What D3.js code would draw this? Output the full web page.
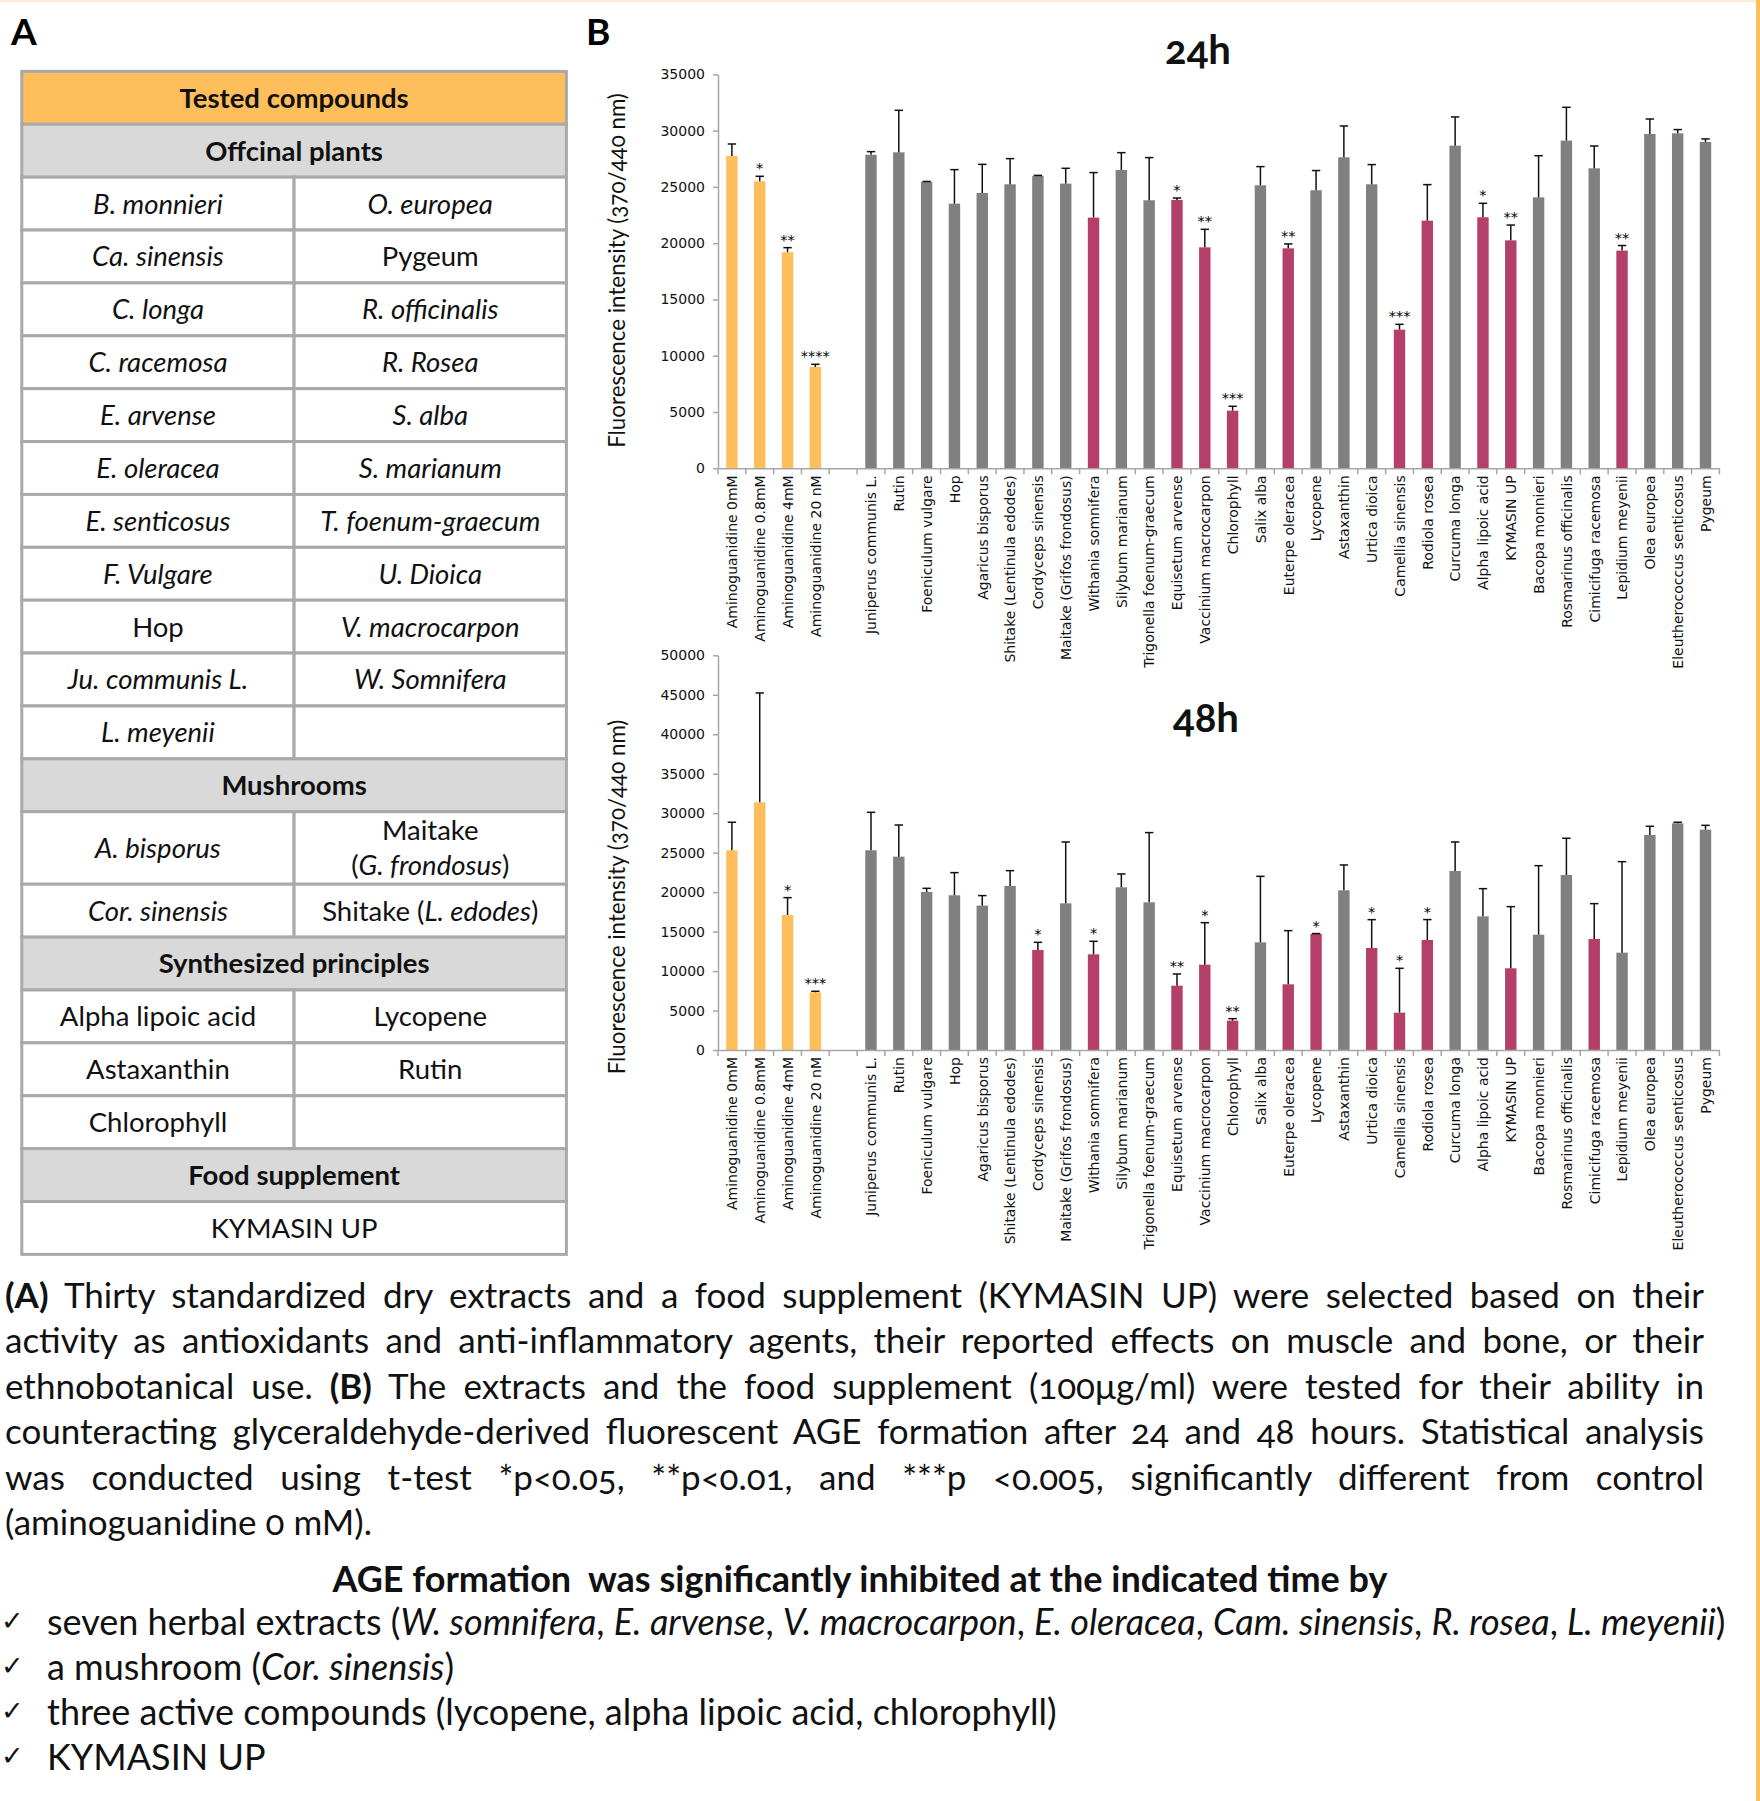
<!DOCTYPE html>
<html>
<head>
<meta charset="utf-8">
<script src="https://cdn.jsdelivr.net/npm/d3@7"></script>
<style>
  body { margin: 0; background: #fff; }
  svg { display: block; font-family: Lato, "Open Sans", sans-serif; }
  .onum { font-variant-numeric: oldstyle-nums; font-feature-settings: "onum" 1; }
</style>
</head>
<body>
<svg id="fig" width="1760" height="1801"></svg>
<script>
// ---------------- DATA ----------------
const categories = [
  "Aminoguanidine 0mM", "Aminoguanidine 0.8mM", "Aminoguanidine 4mM", "Aminoguanidine 20 nM", "",
  "Juniperus communis L.", "Rutin", "Foeniculum vulgare", "Hop", "Agaricus bisporus",
  "Shitake (Lentinula edodes)", "Cordyceps sinensis", "Maitake (Grifos frondosus)", "Withania somnifera",
  "Silybum marianum", "Trigonella foenum-graecum", "Equisetum arvense", "Vaccinium macrocarpon",
  "Chlorophyll", "Salix alba", "Euterpe oleracea", "Lycopene", "Astaxanthin", "Urtica dioica",
  "Camellia sinensis", "Rodiola rosea", "Curcuma longa", "Alpha lipoic acid", "KYMASIN UP",
  "Bacopa monnieri", "Rosmarinus officinalis", "Cimicifuga racemosa", "Lepidium meyenii",
  "Olea europea", "Eleutherococcus senticosus", "Pygeum"
];
const controls = ["Aminoguanidine 0mM", "Aminoguanidine 0.8mM", "Aminoguanidine 4mM", "Aminoguanidine 20 nM"];

const values24 = [27750, 25500, 19200, 9000, null,
  27850, 28070, 25430, 23510, 24460, 25230, 25970, 25290, 22270, 26500, 23810, 23840, 19630,
  5120, 25140, 19540, 24700, 27630, 25230, 12320, 22000, 28660, 22300, 20250, 24070, 29110,
  26650, 19340, 29700, 29760, 28990];
const errors24 = [1060, 440, 400, 240, null,
  280, 3730, 50, 3020, 2540, 2280, 50, 1360, 4000, 1540, 3790, 170, 1600,
  390, 1660, 390, 1750, 2780, 1750, 470, 3200, 2550, 1240, 1360, 3700, 2960,
  1980, 450, 1330, 330, 270];
const stars24 = ["", "*", "**", "****", "",
  "", "", "", "", "", "", "", "", "", "", "", "*", "**",
  "***", "", "**", "", "", "", "***", "", "", "*", "**", "", "",
  "", "**", "", "", ""];
const highlighted24 = ["Withania somnifera", "Equisetum arvense", "Vaccinium macrocarpon", "Chlorophyll",
  "Euterpe oleracea", "Camellia sinensis", "Rodiola rosea", "Alpha lipoic acid", "KYMASIN UP", "Lepidium meyenii"];

const values48 = [25300, 31380, 17100, 7310, null,
  25300, 24490, 20020, 19600, 18290, 20780, 12670, 18580, 12120, 20610, 18710, 8150, 10810,
  3720, 13640, 8320, 14700, 20230, 12920, 4730, 13940, 22680, 16930, 10350, 14610, 22170,
  14060, 12330, 27240, 28720, 27910];
const errors48 = [3550, 13850, 2200, 130, null,
  4810, 4010, 460, 2870, 1270, 1940, 970, 7770, 1650, 1690, 8830, 1480, 5320,
  250, 8360, 6800, 50, 3210, 3590, 5620, 2580, 3670, 3510, 7810, 8740, 4650,
  4480, 11530, 1100, 130, 550];
const stars48 = ["", "", "*", "***", "",
  "", "", "", "", "", "", "*", "", "*", "", "", "**", "*",
  "**", "", "", "*", "", "*", "*", "*", "", "", "", "", "",
  "", "", "", "", ""];
const highlighted48 = ["Cordyceps sinensis", "Withania somnifera", "Equisetum arvense", "Vaccinium macrocarpon",
  "Chlorophyll", "Euterpe oleracea", "Lycopene", "Urtica dioica", "Camellia sinensis", "Rodiola rosea",
  "KYMASIN UP", "Cimicifuga racemosa"];

const yTicks24 = [0, 5000, 10000, 15000, 20000, 25000, 30000, 35000];
const yTicks48 = [0, 5000, 10000, 15000, 20000, 25000, 30000, 35000, 40000, 45000, 50000];

// table contents
const tableTitle = "Tested compounds";
const plantsLeft = ["<i>B. monnieri</i>", "<i>Ca. sinensis</i>", "<i>C. longa</i>", "<i>C. racemosa</i>",
  "<i>E. arvense</i>", "<i>E. oleracea</i>", "<i>E. senticosus</i>", "<i>F. Vulgare</i>", "Hop",
  "<i>Ju. communis L.</i>", "<i>L. meyenii</i>"];
const plantsRight = ["<i>O. europea</i>", "Pygeum", "<i>R. officinalis</i>", "<i>R. Rosea</i>",
  "<i>S. alba</i>", "<i>S. marianum</i>", "<i>T. foenum-graecum</i>", "<i>U. Dioica</i>",
  "<i>V. macrocarpon</i>", "<i>W. Somnifera</i>", ""];
const mushroomsLeft = ["<i>A. bisporus</i>", "<i>Cor. sinensis</i>"];
const mushroomsRight = ["Maitake\n(<i>G. frondosus</i>)", "Shitake (<i>L. edodes</i>)"];
const principlesLeft = ["Alpha lipoic acid", "Astaxanthin", "Chlorophyll"];
const principlesRight = ["Lycopene", "Rutin", ""];
const supplements = ["KYMASIN UP"];
const tableSections = [
  { name: "Offcinal plants", left: plantsLeft, right: plantsRight },
  { name: "Mushrooms", left: mushroomsLeft, right: mushroomsRight },
  { name: "Synthesized principles", left: principlesLeft, right: principlesRight },
  { name: "Food supplement", span: supplements }
];

const captionLines = [
  "<b>(A)</b> Thirty standardized dry extracts and a food supplement (KYMASIN UP) were selected based on their",
  "activity as antioxidants and anti-inflammatory agents, their reported effects on muscle and bone, or their",
  "ethnobotanical use. <b>(B)</b> The extracts and the food supplement (100μg/ml) were tested for their ability in",
  "counteracting glyceraldehyde-derived fluorescent AGE formation after 24 and 48 hours. Statistical analysis",
  "was conducted using t-test *p<0.05, **p<0.01, and ***p <0.005, significantly different from control",
  "(aminoguanidine 0 mM)."
];
const headline = "AGE formation  was significantly inhibited at the indicated time by";
const bullets = [
  "seven herbal extracts (<i>W. somnifera</i>, <i>E. arvense</i>, <i>V. macrocarpon</i>, <i>E. oleracea</i>, <i>Cam. sinensis</i>, <i>R. rosea</i>, <i>L. meyenii</i>)",
  "a mushroom (<i>Cor. sinensis</i>)",
  "three active compounds (lycopene, alpha lipoic acid, chlorophyll)",
  "KYMASIN UP"
];

// ---------------- STYLE ----------------
const C = { orange: "#FFBE5C", grey: "#808080", red: "#B4406A", axis: "#A6A6A6",
            tableBorder: "#A9A9A9", section: "#D9D9D9" };

const svg = d3.select("#fig");
svg.append("rect").attr("width", 1760).attr("height", 1801).attr("fill", "#fff");
svg.append("rect").attr("x", 0).attr("y", 0).attr("width", 1756).attr("height", 2).attr("fill", "#FDEBD2");
svg.append("rect").attr("x", 1756).attr("y", 0).attr("width", 4).attr("height", 1801).attr("fill", C.orange);

function rich(textSel, str) {
  const parts = str.split(/(<i>.*?<\/i>|<b>.*?<\/b>)/).filter(s => s.length);
  parts.forEach(p => {
    const t = textSel.append("tspan");
    if (p.startsWith("<i>")) t.attr("font-style", "italic").text(p.slice(3, -4));
    else if (p.startsWith("<b>")) t.attr("font-weight", "bold").text(p.slice(3, -4));
    else t.text(p);
  });
  return textSel;
}
function fitFont(sel, base, target, lo, hi) {
  sel.attr("font-size", base);
  const w = sel.node().getComputedTextLength();
  let fs = base * target / w;
  if (lo !== undefined) fs = Math.max(lo, Math.min(hi, fs));
  sel.attr("font-size", fs);
  return fs;
}
const countSpaces = s => (s.replace(/<\/?[ib]>/g, "").match(/ /g) || []).length;

// panel letters
svg.append("text").attr("x", 11).attr("y", 44.6).attr("font-size", 37).attr("font-weight", "bold").text("A");
svg.append("text").attr("x", 586).attr("y", 44.6).attr("font-size", 37).attr("font-weight", "bold").text("B");

// ---------------- TABLE ----------------
(function drawTable() {
  const x0 = 21.8, x1 = 566.4, xm = (x0 + x1) / 2;
  const rowH = 52.88, tallH = 72.5, fs = 27.5;
  const g = svg.append("g");
  const rows = [{ kind: "title", text: tableTitle }];
  tableSections.forEach(s => {
    rows.push({ kind: "section", text: s.name });
    if (s.span) s.span.forEach(t => rows.push({ kind: "span", text: t }));
    else s.left.forEach((l, i) => rows.push({ kind: "pair", left: l, right: s.right[i] }));
  });
  let y = 71.4;
  const cellText = (str, cx, cy) => {
    const lines = str.split("\n");
    lines.forEach((ln, k) => {
      const off = (k - (lines.length - 1) / 2) * 35;
      const t = g.append("text").attr("x", cx).attr("y", cy + off).attr("dy", "0.36em")
        .attr("text-anchor", "middle").attr("font-size", fs).attr("fill", "#111");
      rich(t, ln);
    });
  };
  rows.forEach(r => {
    const h = (r.kind === "pair" && (r.left.includes("\n") || r.right.includes("\n"))) ? tallH : rowH;
    const cy = y + h / 2;
    if (r.kind === "title" || r.kind === "section" || r.kind === "span") {
      g.append("rect").attr("x", x0).attr("y", y).attr("width", x1 - x0).attr("height", h)
        .attr("fill", r.kind === "title" ? C.orange : r.kind === "section" ? C.section : "#fff")
        .attr("stroke", C.tableBorder).attr("stroke-width", 3);
      const t = g.append("text").attr("x", xm).attr("y", cy).attr("dy", "0.36em").attr("text-anchor", "middle")
        .attr("font-size", fs).attr("font-weight", r.kind === "span" ? "normal" : "bold").attr("fill", "#111");
      rich(t, r.text);
    } else {
      g.append("rect").attr("x", x0).attr("y", y).attr("width", xm - x0).attr("height", h)
        .attr("fill", "#fff").attr("stroke", C.tableBorder).attr("stroke-width", 3);
      g.append("rect").attr("x", xm).attr("y", y).attr("width", x1 - xm).attr("height", h)
        .attr("fill", "#fff").attr("stroke", C.tableBorder).attr("stroke-width", 3);
      cellText(r.left, (x0 + xm) / 2, cy);
      cellText(r.right, (xm + x1) / 2, cy);
    }
    y += h;
  });
})();

// ---------------- CHARTS ----------------
function drawChart(cfg) {
  const x = d3.scaleBand().domain(d3.range(categories.length)).range([718, 1719.4]);
  const y = d3.scaleLinear().domain([0, cfg.yMax]).range([cfg.y0, cfg.yTop]);
  const g = svg.append("g");
  const bw = x.bandwidth() * 0.41;
  const cx = i => x(i) + x.bandwidth() / 2;
  const data = categories.map((c, i) => ({ c, i, v: cfg.values[i], e: cfg.errors[i], s: cfg.stars[i] }))
    .filter(d => d.c !== "" && d.v != null);

  // bars
  g.selectAll("rect.bar").data(data).join("rect").attr("class", "bar")
    .attr("x", d => cx(d.i) - bw / 2).attr("y", d => y(d.v))
    .attr("width", bw).attr("height", d => y(0) - y(d.v))
    .attr("fill", d => controls.includes(d.c) ? C.orange : cfg.highlighted.includes(d.c) ? C.red : C.grey);

  // error bars (upper)
  const eg = g.append("g").attr("stroke", "#111").attr("stroke-width", 1.5);
  data.forEach(d => {
    eg.append("line").attr("x1", cx(d.i)).attr("x2", cx(d.i)).attr("y1", y(d.v)).attr("y2", y(d.v + d.e));
    eg.append("line").attr("x1", cx(d.i) - 4.2).attr("x2", cx(d.i) + 4.2)
      .attr("y1", y(d.v + d.e)).attr("y2", y(d.v + d.e));
  });
  // significance stars
  g.selectAll("text.star").data(data.filter(d => d.s)).join("text").attr("class", "star")
    .attr("x", d => cx(d.i)).attr("y", d => y(d.v + d.e) - 3)
    .attr("text-anchor", "middle").attr("font-family", "DejaVu Sans").attr("font-size", 14.5)
    .text(d => d.s);

  // y axis
  const ya = g.append("g").attr("transform", "translate(718,0)")
    .call(d3.axisLeft(y).tickValues(cfg.yTicks).tickSize(5).tickSizeOuter(0).tickPadding(8).tickFormat(d3.format("d")));
  ya.select(".domain").attr("stroke", C.axis).attr("stroke-width", 1.5);
  ya.selectAll(".tick line").attr("stroke", C.axis).attr("stroke-width", 1.5);
  ya.selectAll(".tick text").attr("font-family", "DejaVu Sans").attr("font-size", 14).attr("fill", "#111");

  // x axis
  const xa = g.append("g").attr("transform", `translate(0,${cfg.y0})`)
    .call(d3.axisBottom(x).tickSize(0).tickSizeOuter(0).tickFormat(""));
  xa.select(".domain").attr("stroke", C.axis).attr("stroke-width", 1.5);
  const bounds = d3.range(categories.length + 1).map(i => i < categories.length ? x(i) : x(i - 1) + x.bandwidth());
  g.selectAll("line.bt").data(bounds).join("line").attr("class", "bt")
    .attr("x1", d => d).attr("x2", d => d).attr("y1", cfg.y0).attr("y2", cfg.y0 + 6)
    .attr("stroke", C.axis).attr("stroke-width", 1.5);
  // category labels
  g.selectAll("text.cat").data(data).join("text").attr("class", "cat")
    .attr("transform", d => `translate(${cx(d.i)},${cfg.y0 + 7}) rotate(-90)`)
    .attr("text-anchor", "end").attr("dy", "0.38em")
    .attr("font-family", "DejaVu Sans").attr("font-size", 14).attr("fill", "#111")
    .text(d => d.c);

  // y title
  const yt = svg.append("text").attr("class", "onum")
    .attr("transform", `translate(617,${cfg.yTitleY}) rotate(-90)`)
    .attr("text-anchor", "middle").attr("dy", "0.35em").attr("fill", "#111")
    .text("Fluorescence intensity (370/440 nm)");
  fitFont(yt, 23, 355, 19, 25);

  // chart title
  const tt = svg.append("text").attr("class", "onum").attr("x", cfg.titleX).attr("y", cfg.titleY)
    .attr("text-anchor", "middle").attr("font-weight", "bold").attr("fill", "#111").text(cfg.title);
  fitFont(tt, 40, 66, 34, 44);
}

drawChart({ values: values24, errors: errors24, stars: stars24, highlighted: highlighted24,
  yMax: 35000, yTicks: yTicks24, y0: 468.3, yTop: 74.3, yTitleY: 270.5,
  title: "24h", titleX: 1198, titleY: 64 });
drawChart({ values: values48, errors: errors48, stars: stars48, highlighted: highlighted48,
  yMax: 50000, yTicks: yTicks48, y0: 1050, yTop: 655.3, yTitleY: 897,
  title: "48h", titleX: 1206, titleY: 732 });

// ---------------- CAPTION ----------------
(function drawCaption() {
  const g = svg.append("g").attr("class", "onum");
  const lineW = 1699;
  // font size chosen so that the first line fills the width with near-natural spacing
  const first = g.append("text").attr("x", 5).attr("y", 1308).style("white-space", "pre").attr("fill", "#111");
  rich(first, captionLines[0]);
  const fs = fitFont(first, 31, lineW - countSpaces(captionLines[0]) * 2.5, 28, 35);
  first.remove();
  captionLines.forEach((ln, i) => {
    const t = g.append("text").attr("x", 5).attr("y", 1308 + i * 45.4).attr("font-size", fs)
      .style("white-space", "pre").attr("fill", "#111");
    rich(t, ln);
    if (i < captionLines.length - 1) {
      const w = t.node().getComputedTextLength();
      t.attr("word-spacing", (lineW - w) / countSpaces(ln));
    }
  });

  const h = g.append("text").attr("x", 860).attr("y", 1592).attr("text-anchor", "middle")
    .attr("font-weight", "bold").style("white-space", "pre").attr("fill", "#111").text(headline);
  fitFont(h, 33, 1060, 28, 36);

  const b0 = g.append("text").attr("x", 47).attr("y", 1635).style("white-space", "pre").attr("fill", "#111");
  rich(b0, bullets[0]);
  const bfs = fitFont(b0, 34, 1680, 28, 36);
  bullets.forEach((b, i) => {
    if (i > 0) {
      const t = g.append("text").attr("x", 47).attr("y", 1635 + i * 45).attr("font-size", bfs)
        .style("white-space", "pre").attr("fill", "#111");
      rich(t, b);
    }
    svg.append("text").attr("x", 1).attr("y", 1630 + i * 45).attr("font-family", "DejaVu Sans")
      .attr("font-size", 27).attr("fill", "#111").text("\u2713");
  });
})();
</script>
</body>
</html>
